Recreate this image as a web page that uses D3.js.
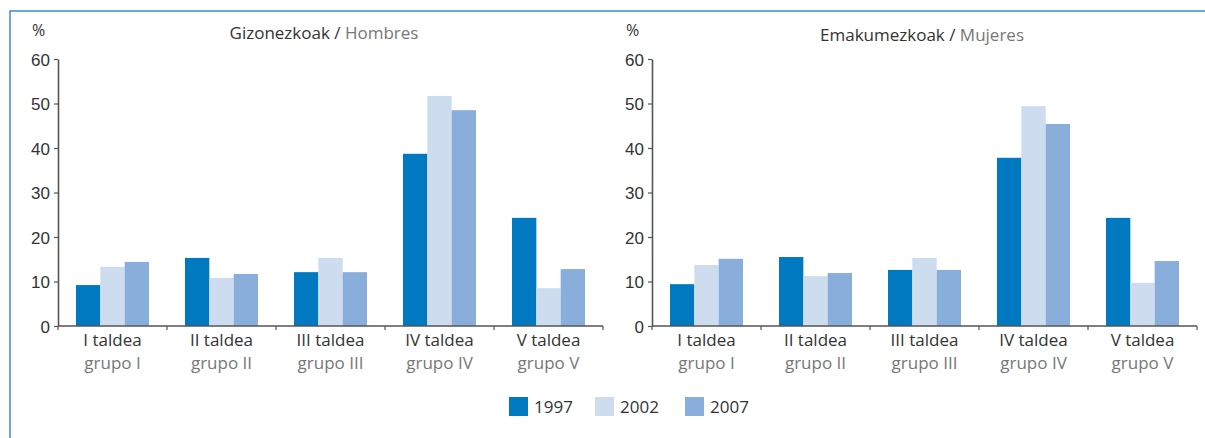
<!DOCTYPE html>
<html><head><meta charset="utf-8">
<script src="https://cdn.jsdelivr.net/npm/d3@7"></script>
<style>body{margin:0;background:#fff;} svg{display:block;font-family:"Open Sans",sans-serif;}</style>
</head><body>
<svg id="chart" width="1205" height="438"></svg>
<script>
const categoriesEu = ["I taldea","II taldea","III taldea","IV taldea","V taldea"];
const categoriesEs = ["grupo I","grupo II","grupo III","grupo IV","grupo V"];
const years = ["1997","2002","2007"];
const colors = ["#0079c1","#cddcee","#8aaedb"];
const menValues = [
  [9.2, 13.3, 14.4],
  [15.3, 10.8, 11.7],
  [12.1, 15.3, 12.1],
  [38.7, 51.7, 48.5],
  [24.3, 8.5, 12.8]
];
const womenValues = [
  [9.4, 13.7, 15.1],
  [15.5, 11.2, 11.9],
  [12.6, 15.3, 12.6],
  [37.8, 49.4, 45.4],
  [24.3, 9.7, 14.6]
];
const yTicks = [0,10,20,30,40,50,60];
const panels = [
  {eu:"Gizonezkoak / ", es:"Hombres", values:menValues, x0:58, tx:324, ty:39},
  {eu:"Emakumezkoak / ", es:"Mujeres", values:womenValues, x0:652, tx:922, ty:41}
];

const svg = d3.select("#chart");
const dark = "#333", gray = "#777", axisCol = "#555";

// frame
svg.append("path").attr("d","M10,438 L10,11 L1205,11").attr("fill","none")
  .attr("stroke","#3b8ed0").attr("stroke-width",1.5);

const y = d3.scaleLinear().domain([0,60]).range([326,59]);

panels.forEach(p => {
  const g = svg.append("g");
  const x = d3.scaleBand().domain(categoriesEu).range([p.x0, p.x0+545]).padding(0);
  const xi = d3.scaleBand().domain(years).range([18, x.bandwidth()-18]).padding(0);

  // bars
  categoriesEu.forEach((c,i) => {
    g.selectAll(null).data(p.values[i]).enter().append("rect")
      .attr("x",(d,j)=>x(c)+xi(years[j]))
      .attr("width",xi.bandwidth())
      .attr("y",d=>y(d))
      .attr("height",d=>y(0)-y(d))
      .attr("fill",(d,j)=>colors[j]);
  });

  // y axis
  const ya = g.append("g").attr("transform",`translate(${p.x0},0)`)
    .call(d3.axisLeft(y).tickValues(yTicks).tickSize(4).tickPadding(4).tickSizeOuter(0));
  ya.select(".domain").attr("stroke",axisCol).attr("stroke-width",1.6);
  ya.selectAll(".tick line").attr("stroke",axisCol).attr("stroke-width",1.2);
  ya.selectAll(".tick text").attr("fill",dark).style("font-size","17px").attr("dy","0.36em");

  // x axis
  const xa = g.append("g").attr("transform",`translate(0,${y(0)})`);
  xa.append("line").attr("x1",p.x0).attr("x2",p.x0+545).attr("stroke",axisCol).attr("stroke-width",1.6);
  const bounds = categoriesEu.map(c=>x(c)).concat([p.x0+545]);
  xa.selectAll(null).data(bounds).enter().append("line")
    .attr("x1",d=>d).attr("x2",d=>d).attr("y1",0).attr("y2",4)
    .attr("stroke",axisCol).attr("stroke-width",1.2);
  categoriesEu.forEach((c,i)=>{
    const cx = x(c)+x.bandwidth()/2;
    xa.append("text").attr("x",cx).attr("y",20).attr("text-anchor","middle")
      .attr("fill",dark).style("font-size","17px").text(c);
    xa.append("text").attr("x",cx).attr("y",43).attr("text-anchor","middle")
      .attr("fill",gray).style("font-size","17px").text(categoriesEs[i]);
  });

  // % label
  g.append("text").attr("x",p.x0-26).attr("y",36).attr("fill",dark).style("font-size","16px").text("%");

  // title
  const t = g.append("text").attr("x",p.tx).attr("y",p.ty).attr("text-anchor","middle").style("font-size","17px");
  t.append("tspan").attr("fill",dark).text(p.eu);
  t.append("tspan").attr("fill",gray).text(p.es);
});

// legend
const legX = [509,595,685];
years.forEach((yr,j)=>{
  svg.append("rect").attr("x",legX[j]).attr("y",397).attr("width",19).attr("height",19).attr("fill",colors[j]);
  svg.append("text").attr("x",legX[j]+25).attr("y",413).attr("fill",dark).style("font-size","17px").text(yr);
});
</script>
</body></html>
